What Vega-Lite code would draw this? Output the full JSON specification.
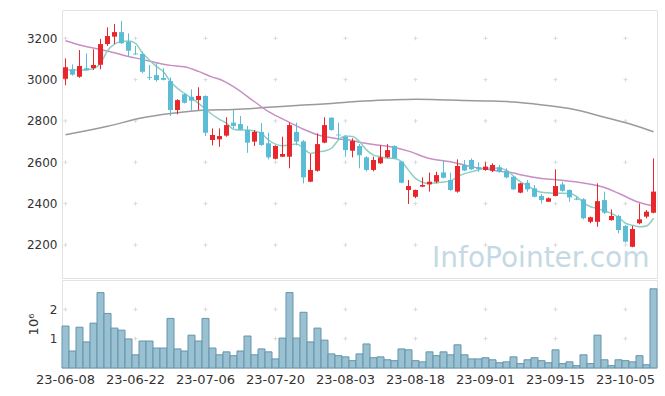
{
"$schema": "https://vega.github.io/schema/vega-lite/v6.json",
"autosize": {"type": "pad"},
"padding": {"left": 25, "top": 9, "right": 9, "bottom": 5},
"background": "white",
"spacing": 0,
"config": {"view": {"stroke": "#e3e3e3"}, "font": "DejaVu Sans", "concat": {"spacing": 0}},
"datasets": {
"k": [
{"d":"23-06-08","o":3004,"h":3103,"l":2973,"c":3060,"v":1430000,"ma5":3047},
{"d":"23-06-09","o":3050,"h":3074,"l":3020,"c":3024,"v":580000,"ma5":3047},
{"d":"23-06-12","o":3014,"h":3143,"l":3009,"c":3066,"v":1390000,"ma5":3046},
{"d":"23-06-13","o":3055,"h":3127,"l":3043,"c":3045,"v":890000,"ma5":3048},
{"d":"23-06-14","o":3056,"h":3147,"l":3047,"c":3071,"v":1530000,"ma5":3053},
{"d":"23-06-15","o":3072,"h":3197,"l":3050,"c":3172,"v":2570000,"ma5":3079},
{"d":"23-06-16","o":3172,"h":3253,"l":3163,"c":3211,"v":1860000,"ma5":3140},
{"d":"23-06-19","o":3208,"h":3269,"l":3172,"c":3230,"v":1360000,"ma5":3172},
{"d":"23-06-20","o":3230,"h":3285,"l":3172,"c":3176,"v":1290000,"ma5":3185},
{"d":"23-06-21","o":3184,"h":3224,"l":3111,"c":3140,"v":990000,"ma5":3187},
{"d":"23-06-22","o":3126,"h":3163,"l":3119,"c":3122,"v":450000,"ma5":3176},
{"d":"23-06-23","o":3124,"h":3135,"l":3030,"c":3038,"v":920000,"ma5":3128},
{"d":"23-06-26","o":3013,"h":3071,"l":2998,"c":3009,"v":920000,"ma5":3095},
{"d":"23-06-27","o":3022,"h":3079,"l":2990,"c":2998,"v":680000,"ma5":3063},
{"d":"23-06-28","o":3008,"h":3055,"l":2996,"c":2999,"v":680000,"ma5":3038},
{"d":"23-06-29","o":2993,"h":3011,"l":2824,"c":2853,"v":1690000,"ma5":2990},
{"d":"23-06-30","o":2853,"h":2905,"l":2832,"c":2901,"v":650000,"ma5":2958},
{"d":"23-07-03","o":2929,"h":2934,"l":2885,"c":2888,"v":580000,"ma5":2933},
{"d":"23-07-04","o":2917,"h":2953,"l":2850,"c":2898,"v":1120000,"ma5":2910},
{"d":"23-07-05","o":2901,"h":2963,"l":2853,"c":2921,"v":920000,"ma5":2885},
{"d":"23-07-06","o":2921,"h":2924,"l":2727,"c":2743,"v":1690000,"ma5":2858},
{"d":"23-07-07","o":2708,"h":2764,"l":2682,"c":2732,"v":680000,"ma5":2830},
{"d":"23-07-10","o":2711,"h":2764,"l":2675,"c":2727,"v":450000,"ma5":2808},
{"d":"23-07-11","o":2729,"h":2818,"l":2724,"c":2780,"v":550000,"ma5":2789},
{"d":"23-07-12","o":2792,"h":2853,"l":2764,"c":2776,"v":420000,"ma5":2760},
{"d":"23-07-13","o":2785,"h":2824,"l":2755,"c":2758,"v":580000,"ma5":2756},
{"d":"23-07-14","o":2756,"h":2776,"l":2646,"c":2695,"v":1090000,"ma5":2756},
{"d":"23-07-17","o":2700,"h":2756,"l":2679,"c":2747,"v":450000,"ma5":2751},
{"d":"23-07-18","o":2747,"h":2789,"l":2679,"c":2684,"v":650000,"ma5":2740},
{"d":"23-07-19","o":2692,"h":2743,"l":2614,"c":2624,"v":550000,"ma5":2708},
{"d":"23-07-20","o":2617,"h":2682,"l":2614,"c":2679,"v":310000,"ma5":2688},
{"d":"23-07-21","o":2627,"h":2724,"l":2625,"c":2640,"v":1020000,"ma5":2680},
{"d":"23-07-24","o":2627,"h":2792,"l":2571,"c":2780,"v":2570000,"ma5":2684},
{"d":"23-07-25","o":2747,"h":2792,"l":2682,"c":2700,"v":1020000,"ma5":2688},
{"d":"23-07-26","o":2701,"h":2708,"l":2498,"c":2527,"v":1900000,"ma5":2668},
{"d":"23-07-27","o":2506,"h":2640,"l":2504,"c":2563,"v":890000,"ma5":2643},
{"d":"23-07-28","o":2559,"h":2740,"l":2555,"c":2688,"v":1360000,"ma5":2651},
{"d":"23-07-31","o":2695,"h":2818,"l":2692,"c":2780,"v":950000,"ma5":2655},
{"d":"23-08-01","o":2816,"h":2818,"l":2753,"c":2756,"v":480000,"ma5":2668},
{"d":"23-08-02","o":2734,"h":2792,"l":2708,"c":2730,"v":420000,"ma5":2708},
{"d":"23-08-03","o":2724,"h":2732,"l":2627,"c":2659,"v":380000,"ma5":2727},
{"d":"23-08-04","o":2656,"h":2716,"l":2624,"c":2703,"v":250000,"ma5":2725},
{"d":"23-08-07","o":2679,"h":2688,"l":2571,"c":2634,"v":480000,"ma5":2700},
{"d":"23-08-08","o":2624,"h":2630,"l":2556,"c":2563,"v":820000,"ma5":2660},
{"d":"23-08-09","o":2563,"h":2627,"l":2556,"c":2611,"v":350000,"ma5":2635},
{"d":"23-08-10","o":2595,"h":2682,"l":2592,"c":2624,"v":380000,"ma5":2627},
{"d":"23-08-11","o":2624,"h":2688,"l":2621,"c":2659,"v":280000,"ma5":2620},
{"d":"23-08-14","o":2679,"h":2682,"l":2616,"c":2619,"v":250000,"ma5":2618},
{"d":"23-08-16","o":2603,"h":2606,"l":2498,"c":2501,"v":650000,"ma5":2603},
{"d":"23-08-17","o":2466,"h":2514,"l":2398,"c":2485,"v":620000,"ma5":2562},
{"d":"23-08-18","o":2433,"h":2468,"l":2426,"c":2466,"v":250000,"ma5":2522},
{"d":"23-08-21","o":2482,"h":2527,"l":2480,"c":2490,"v":210000,"ma5":2503},
{"d":"23-08-22","o":2493,"h":2550,"l":2458,"c":2506,"v":550000,"ma5":2497},
{"d":"23-08-23","o":2506,"h":2554,"l":2498,"c":2538,"v":420000,"ma5":2501},
{"d":"23-08-24","o":2551,"h":2608,"l":2522,"c":2525,"v":550000,"ma5":2505},
{"d":"23-08-25","o":2514,"h":2550,"l":2462,"c":2466,"v":450000,"ma5":2510},
{"d":"23-08-28","o":2458,"h":2614,"l":2453,"c":2582,"v":790000,"ma5":2530},
{"d":"23-08-29","o":2587,"h":2611,"l":2557,"c":2560,"v":450000,"ma5":2545},
{"d":"23-08-30","o":2611,"h":2619,"l":2563,"c":2566,"v":310000,"ma5":2554},
{"d":"23-08-31","o":2576,"h":2600,"l":2554,"c":2567,"v":310000,"ma5":2563},
{"d":"23-09-01","o":2563,"h":2600,"l":2559,"c":2579,"v":350000,"ma5":2571},
{"d":"23-09-04","o":2559,"h":2595,"l":2553,"c":2587,"v":280000,"ma5":2572},
{"d":"23-09-05","o":2576,"h":2587,"l":2550,"c":2554,"v":180000,"ma5":2571},
{"d":"23-09-06","o":2559,"h":2571,"l":2522,"c":2527,"v":210000,"ma5":2561},
{"d":"23-09-07","o":2530,"h":2533,"l":2466,"c":2469,"v":380000,"ma5":2533},
{"d":"23-09-08","o":2453,"h":2500,"l":2450,"c":2498,"v":150000,"ma5":2505},
{"d":"23-09-11","o":2501,"h":2514,"l":2458,"c":2469,"v":280000,"ma5":2487},
{"d":"23-09-12","o":2474,"h":2490,"l":2430,"c":2433,"v":350000,"ma5":2466},
{"d":"23-09-13","o":2437,"h":2446,"l":2401,"c":2417,"v":250000,"ma5":2455},
{"d":"23-09-14","o":2409,"h":2430,"l":2408,"c":2426,"v":180000,"ma5":2452},
{"d":"23-09-15","o":2437,"h":2566,"l":2435,"c":2485,"v":620000,"ma5":2450},
{"d":"23-09-18","o":2493,"h":2506,"l":2458,"c":2462,"v":150000,"ma5":2450},
{"d":"23-09-19","o":2466,"h":2469,"l":2409,"c":2430,"v":210000,"ma5":2449},
{"d":"23-09-20","o":2424,"h":2433,"l":2417,"c":2419,"v":80000,"ma5":2435},
{"d":"23-09-21","o":2421,"h":2426,"l":2324,"c":2329,"v":450000,"ma5":2405},
{"d":"23-09-22","o":2312,"h":2337,"l":2305,"c":2334,"v":150000,"ma5":2385},
{"d":"23-09-25","o":2312,"h":2498,"l":2288,"c":2412,"v":1120000,"ma5":2377},
{"d":"23-09-26","o":2417,"h":2458,"l":2350,"c":2356,"v":280000,"ma5":2363},
{"d":"23-09-27","o":2320,"h":2372,"l":2318,"c":2340,"v":80000,"ma5":2353},
{"d":"23-10-04","o":2340,"h":2345,"l":2256,"c":2272,"v":280000,"ma5":2333},
{"d":"23-10-05","o":2292,"h":2297,"l":2211,"c":2216,"v":250000,"ma5":2305},
{"d":"23-10-06","o":2191,"h":2292,"l":2189,"c":2277,"v":210000,"ma5":2295},
{"d":"23-10-10","o":2305,"h":2401,"l":2300,"c":2324,"v":420000,"ma5":2288},
{"d":"23-10-11","o":2337,"h":2369,"l":2329,"c":2361,"v":110000,"ma5":2292},
{"d":"23-10-12","o":2356,"h":2619,"l":2353,"c":2458,"v":2700000,"ma5":2329}
],
"ma20": [
{"d":"23-06-08","m":3188},{"d":"23-06-12","m":3168},{"d":"23-06-15","m":3146},{"d":"23-06-19","m":3130},
{"d":"23-06-21","m":3112},{"d":"23-06-23","m":3098},{"d":"23-06-27","m":3082},{"d":"23-06-29","m":3069},
{"d":"23-07-03","m":3062},{"d":"23-07-05","m":3040},{"d":"23-07-07","m":3012},{"d":"23-07-10","m":3002},
{"d":"23-07-12","m":2966},{"d":"23-07-17","m":2893},{"d":"23-07-19","m":2845},{"d":"23-07-21","m":2810},
{"d":"23-07-26","m":2760},{"d":"23-07-28","m":2733},{"d":"23-08-02","m":2713},{"d":"23-08-04","m":2705},
{"d":"23-08-07","m":2697},{"d":"23-08-09","m":2686},{"d":"23-08-14","m":2672},{"d":"23-08-17","m":2654},
{"d":"23-08-22","m":2618},{"d":"23-08-25","m":2603},{"d":"23-08-30","m":2579},{"d":"23-09-04","m":2562},
{"d":"23-09-05","m":2556},{"d":"23-09-07","m":2548},{"d":"23-09-08","m":2540},{"d":"23-09-13","m":2522},
{"d":"23-09-18","m":2513},{"d":"23-09-21","m":2500},{"d":"23-09-26","m":2478},{"d":"23-10-04","m":2450},
{"d":"23-10-10","m":2405},{"d":"23-10-12","m":2388}
],
"ma120": [
{"d":"23-06-08","m":2733},{"d":"23-06-16","m":2774},{"d":"23-06-23","m":2815},{"d":"23-06-29","m":2836},
{"d":"23-07-06","m":2853},{"d":"23-07-12","m":2856},{"d":"23-07-19","m":2866},{"d":"23-07-26","m":2877},
{"d":"23-08-01","m":2885},{"d":"23-08-07","m":2895},{"d":"23-08-11","m":2901},{"d":"23-08-18","m":2905},
{"d":"23-08-25","m":2901},{"d":"23-09-01","m":2897},{"d":"23-09-07","m":2892},{"d":"23-09-12","m":2882},
{"d":"23-09-19","m":2860},{"d":"23-09-26","m":2818},{"d":"23-10-06","m":2782},{"d":"23-10-12","m":2748}
],
"gt": [
{"d":"23-06-08","p":2200},{"d":"23-06-08","p":2400},{"d":"23-06-08","p":2600},{"d":"23-06-08","p":2800},{"d":"23-06-08","p":3000},{"d":"23-06-08","p":3200},
{"d":"23-06-22","p":2200},{"d":"23-06-22","p":2400},{"d":"23-06-22","p":2600},{"d":"23-06-22","p":2800},{"d":"23-06-22","p":3000},{"d":"23-06-22","p":3200},
{"d":"23-07-06","p":2200},{"d":"23-07-06","p":2400},{"d":"23-07-06","p":2600},{"d":"23-07-06","p":2800},{"d":"23-07-06","p":3000},{"d":"23-07-06","p":3200},
{"d":"23-07-20","p":2200},{"d":"23-07-20","p":2400},{"d":"23-07-20","p":2600},{"d":"23-07-20","p":2800},{"d":"23-07-20","p":3000},{"d":"23-07-20","p":3200},
{"d":"23-08-03","p":2200},{"d":"23-08-03","p":2400},{"d":"23-08-03","p":2600},{"d":"23-08-03","p":2800},{"d":"23-08-03","p":3000},{"d":"23-08-03","p":3200},
{"d":"23-08-18","p":2200},{"d":"23-08-18","p":2400},{"d":"23-08-18","p":2600},{"d":"23-08-18","p":2800},{"d":"23-08-18","p":3000},{"d":"23-08-18","p":3200},
{"d":"23-09-01","p":2200},{"d":"23-09-01","p":2400},{"d":"23-09-01","p":2600},{"d":"23-09-01","p":2800},{"d":"23-09-01","p":3000},{"d":"23-09-01","p":3200},
{"d":"23-09-15","p":2200},{"d":"23-09-15","p":2400},{"d":"23-09-15","p":2600},{"d":"23-09-15","p":2800},{"d":"23-09-15","p":3000},{"d":"23-09-15","p":3200},
{"d":"23-10-05","p":2200},{"d":"23-10-05","p":2400},{"d":"23-10-05","p":2600},{"d":"23-10-05","p":2800},{"d":"23-10-05","p":3000},{"d":"23-10-05","p":3200}
],
"gv": [
{"d":"23-06-08","v":1000000},{"d":"23-06-08","v":2000000},{"d":"23-06-22","v":1000000},{"d":"23-06-22","v":2000000},
{"d":"23-07-06","v":1000000},{"d":"23-07-06","v":2000000},{"d":"23-07-20","v":1000000},{"d":"23-07-20","v":2000000},
{"d":"23-08-03","v":1000000},{"d":"23-08-03","v":2000000},{"d":"23-08-18","v":1000000},{"d":"23-08-18","v":2000000},
{"d":"23-09-01","v":1000000},{"d":"23-09-01","v":2000000},{"d":"23-09-15","v":1000000},{"d":"23-09-15","v":2000000},
{"d":"23-10-05","v":1000000},{"d":"23-10-05","v":2000000}
]
},
"vconcat": [
{
"width": 595, "height": 268,
"data": {"name": "k"},
"encoding": {"x": {"field": "d", "type": "ordinal", "scale": {"type": "band", "paddingInner": 0, "paddingOuter": 0}, "axis": null}},
"layer": [
{"data": {"name": "gt"}, "mark": {"type": "point", "shape": "M-1,0L1,0M0,-1L0,1", "size": 16, "filled": false, "stroke": "#dadada", "strokeWidth": 1, "opacity": 1},
 "encoding": {"y": {"field": "p", "type": "quantitative", "title": null, "scale": {"domain": [2040, 3337], "nice": false, "zero": false},
   "axis": {"values": [2200, 2400, 2600, 2800, 3000, 3200], "format": "d", "grid": false, "ticks": false, "domain": false, "labelFontSize": 12, "labelColor": "#333333", "labelPadding": 5, "minExtent": 36, "maxExtent": 36}}}},
{"data": {"values": [{}]}, "mark": {"type": "text", "text": "InfoPointer.com", "align": "right", "baseline": "alphabetic", "fontSize": 28, "color": "#c4d9e4", "font": "DejaVu Sans", "dx": -4},
 "encoding": {"x": {"datum": "23-10-12"}, "y": {"datum": 2094}}},
{"data": {"name": "ma120"}, "mark": {"type": "line", "color": "#9a9a9a", "strokeWidth": 1.5, "interpolate": "monotone"},
 "encoding": {"y": {"field": "m", "type": "quantitative", "title": null}}},
{"data": {"name": "ma20"}, "mark": {"type": "line", "color": "#c98fc5", "strokeWidth": 1.5, "interpolate": "monotone"},
 "encoding": {"y": {"field": "m", "type": "quantitative", "title": null}}},
{"mark": {"type": "line", "color": "#8dcfc2", "strokeWidth": 1.5, "interpolate": "monotone"},
 "encoding": {"y": {"field": "ma5", "type": "quantitative", "title": null}}},
{"mark": {"type": "rule", "strokeWidth": 1},
 "encoding": {"y": {"field": "l", "type": "quantitative", "title": null}, "y2": {"field": "h"},
   "color": {"condition": {"test": "datum.c >= datum.o", "value": "#e8262c"}, "value": "#5bbcd6"}}},
{"mark": {"type": "bar", "width": 5},
 "encoding": {"y": {"field": "o", "type": "quantitative", "title": null}, "y2": {"field": "c"},
   "color": {"condition": {"test": "datum.c >= datum.o", "value": "#e8262c"}, "value": "#5bbcd6"}}}
]
},
{
"width": 595, "height": 88,
"data": {"name": "k"},
"encoding": {"x": {"field": "d", "type": "ordinal", "scale": {"type": "band", "paddingInner": 0, "paddingOuter": 0},
  "axis": {"values": ["23-06-08","23-06-22","23-07-06","23-07-20","23-08-03","23-08-18","23-09-01","23-09-15","23-10-05"], "title": null, "labelAngle": 0, "ticks": false, "domain": false, "grid": false, "labelFontSize": 13, "labelColor": "#333333", "labelPadding": 5}}},
"layer": [
{"data": {"name": "gv"}, "mark": {"type": "point", "shape": "M-1,0L1,0M0,-1L0,1", "size": 16, "filled": false, "stroke": "#dadada", "strokeWidth": 1, "opacity": 1},
 "encoding": {"y": {"field": "v", "type": "quantitative", "title": "10⁶", "scale": {"domain": [0, 3000000], "nice": false},
   "axis": {"values": [1000000, 2000000], "labelExpr": "datum.value / 1000000", "grid": false, "ticks": false, "domain": false, "labelFontSize": 12, "labelColor": "#333333", "labelPadding": 5, "minExtent": 12, "maxExtent": 12, "titleFontSize": 13, "titleFontWeight": "normal", "titleColor": "#333333", "titlePadding": 10}}}},
{"mark": {"type": "bar", "fill": "#9ac1d2", "stroke": "#6494ab", "strokeWidth": 1},
 "encoding": {"y": {"field": "v", "type": "quantitative", "title": "10⁶"}}}
]
}
]
}
